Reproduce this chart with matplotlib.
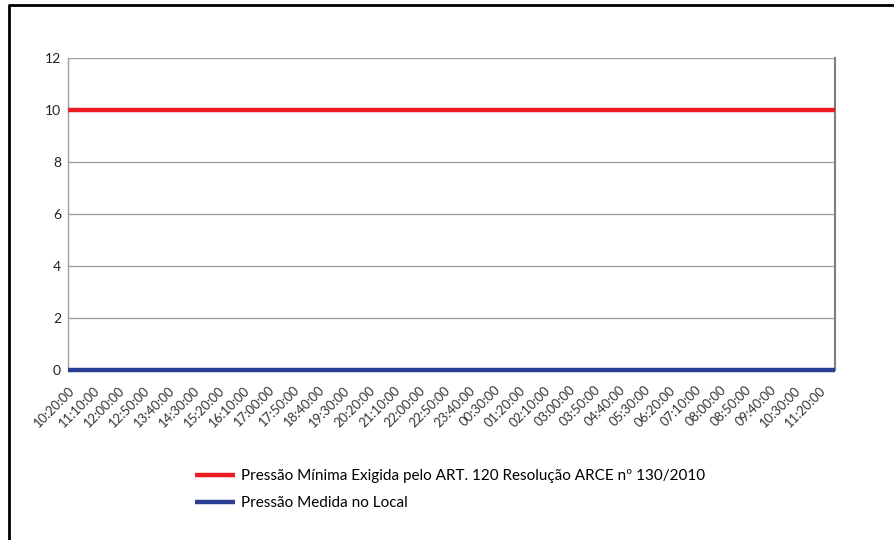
import matplotlib
matplotlib.use("Agg")
import matplotlib.pyplot as plt
from matplotlib.lines import Line2D
from datetime import datetime, timedelta

plt.rcParams['font.family'] = ['Lato', 'DejaVu Sans']

# Data: readings every 10 minutes from 10:20:00 to 11:50:00 next day
start = datetime(2000, 1, 1, 10, 20)
n_points = 154
times = [(start + timedelta(minutes=10 * i)).strftime("%H:%M:%S") for i in range(n_points)]
pressao_minima = [10] * n_points
pressao_medida = [0] * n_points
label_minima = "Pressão Mínima Exigida pelo ART. 120 Resolução ARCE nº 130/2010"
label_medida = "Pressão Medida no Local"
yticks = [0, 2, 4, 6, 8, 10, 12]
label_step = 5

W, H = 895, 540
fig = plt.figure(figsize=(W / 100, H / 100), dpi=100)
ax = fig.add_axes([68 / W, 1 - 370 / H, (835 - 68) / W, (370 - 58) / H])

x = list(range(n_points))
ax.plot(x, pressao_minima, color='#ED1C24', lw=3.2, solid_capstyle='butt', label=label_minima, zorder=3)
ax.plot(x, pressao_medida, color='#2A3E94', lw=3.2, solid_capstyle='butt', label=label_medida, zorder=3, clip_on=False)

ax.set_xlim(0, n_points - 1)
ax.set_ylim(0, 12)
ax.set_yticks(yticks)
ax.set_yticklabels([str(v) for v in yticks], fontsize=10, color='#222222')
ax.set_xticks(x[::label_step])
ax.set_xticklabels(times[::label_step], rotation=45, ha='right', rotation_mode='anchor',
                   fontsize=9.4, color='#333333')
ax.tick_params(axis='both', length=0)
ax.tick_params(axis='y', pad=5)
ax.tick_params(axis='x', pad=10)
ax.yaxis.grid(True, color='#A0A0A0', lw=1)
ax.set_axisbelow(True)
for side in ['top', 'bottom']:
    ax.spines[side].set_visible(False)
ax.spines['left'].set_color('#A0A0A0')
ax.spines['left'].set_linewidth(1)
ax.spines['right'].set_color('#7F7F7F')
ax.spines['right'].set_linewidth(1.5)

# outer frame (top and left only visible)
fig.add_artist(Line2D([9 / W, 9 / W, 1.0], [0.0, 1 - 5 / H, 1 - 5 / H],
                      transform=fig.transFigure, color='black', lw=2))

leg = fig.legend(loc='upper left', bbox_to_anchor=(195 / W, 1 - 469 / H), frameon=False,
                 fontsize=11, handlelength=2.6, handletextpad=0.4, labelspacing=0.85,
                 borderaxespad=0, borderpad=0)
for h in leg.get_lines():
    h.set_linewidth(3.2)

fig.savefig("out.png", dpi=100)
